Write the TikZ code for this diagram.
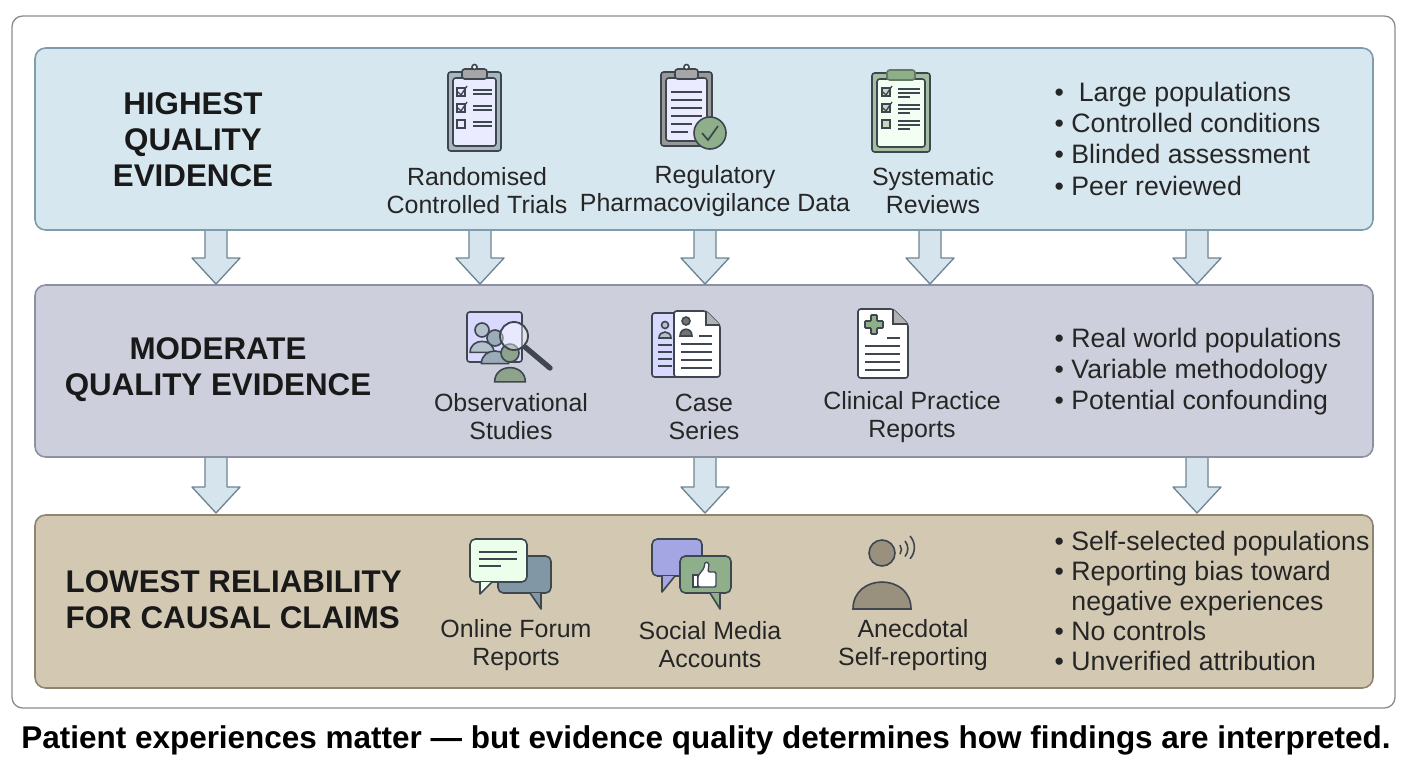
\documentclass[tikz,border=0pt]{standalone}
\usepackage{fontspec}
\setmainfont{Liberation Sans}
\begin{document}
\begin{tikzpicture}[x=0.75pt,y=-0.75pt,
 band/.style={rounded corners=8pt,line width=1.2pt},
 head/.style={font=\fontsize{23.5}{27}\selectfont\bfseries,text=black!90},
 lab/.style={font=\fontsize{18.7}{21}\selectfont,align=center,text=black!85},
 bul/.style={font=\fontsize{20}{23.5}\selectfont,align=left,anchor=north west,text=black!85},
 dn/.style={fill=arrf,draw=arrd,line width=1pt,line join=round},
 ic/.style={draw=icd,line width=1.2pt,rounded corners=2pt},
 ln/.style={draw=icd,line width=1.2pt}]
\definecolor{b1}{HTML}{D7E7F0}\definecolor{b1d}{HTML}{7E9CAC}
\definecolor{b2}{HTML}{CDD0DC}\definecolor{b2d}{HTML}{8B90A2}
\definecolor{b3}{HTML}{D3C9B3}\definecolor{b3d}{HTML}{8E8470}
\definecolor{arrf}{HTML}{D6E4ED}\definecolor{arrd}{HTML}{6E8592}
\definecolor{icd}{HTML}{3E4650}\definecolor{gr}{HTML}{8FAE8A}\definecolor{blg}{HTML}{8297A6}
\useasboundingbox (0,0) rectangle (1408,768);
\fill[white] (0,0) rectangle (1408,768);
\draw[rounded corners=8pt,draw=black!45,line width=1pt] (12,16) rectangle (1395,708);
\draw[band,fill=b1,draw=b1d] (35,48) rectangle (1373,230);
\draw[band,fill=b2,draw=b2d] (35,285) rectangle (1373,457);
\draw[band,fill=b3,draw=b3d] (35,515) rectangle (1373,688);
% arrows
\foreach \x in {216,480,705,930,1197}{
 \draw[dn] (\x-11,231) -- (\x-11,258) -- (\x-24,258) -- (\x,284) -- (\x+24,258) -- (\x+11,258) -- (\x+11,231);}
\foreach \x in {216,705,1197}{
 \draw[dn] (\x-11,458) -- (\x-11,487) -- (\x-24,487) -- (\x,513) -- (\x+24,487) -- (\x+11,487) -- (\x+11,458);}
% headings
\node[head,align=center] (h1) at (193,140) {HIGHEST\\QUALITY\\EVIDENCE};
\node[head,align=center] (h2) at (218,370) {MODERATE\\QUALITY EVIDENCE};
\node[head,align=left,anchor=west] (h3) at (61,600) {LOWEST RELIABILITY\\FOR CAUSAL CLAIMS};
% labels
\node[lab] (l1) at (477,191) {Randomised\\Controlled Trials};
\node[lab] (l2) at (715,191) {Regulatory\\Pharmacovigilance Data};
\node[lab] (l3) at (933,191) {Systematic\\Reviews};
\node[lab] (l4) at (511,417) {Observational\\Studies};
\node[lab] (l5) at (704,417) {Case\\Series};
\node[lab] (l6) at (912,417) {Clinical Practice\\Reports};
\node[lab] (l7) at (516,645) {Online Forum\\Reports};
\node[lab] (l8) at (710,645) {Social Media\\Accounts};
\node[lab] (l9) at (913,645) {Anecdotal\\Self-reporting};
% bullets
\node[bul] (u1) at (1050,77) {\textbullet\ \ Large populations\\\textbullet\ Controlled conditions\\\textbullet\ Blinded assessment\\\textbullet\ Peer reviewed};
\node[bul] (u2) at (1050,323) {\textbullet\ Real world populations\\\textbullet\ Variable methodology\\\textbullet\ Potential confounding};
\node[bul,font=\fontsize{20}{22.5}\selectfont] (u3) at (1050,526) {\textbullet\ Self-selected populations\\\textbullet\ Reporting bias toward\\\phantom{\textbullet\ }negative experiences\\\textbullet\ No controls\\\textbullet\ Unverified attribution};
% caption
\node[font=\fontsize{23.6}{26}\selectfont\bfseries] (cap) at (706,740) {Patient experiences matter — but evidence quality determines how findings are interpreted.};
% icon 1 clipboard
\draw[ic,fill=blg!70] (448,72) rectangle (501,151);
\draw[ic,fill=white!92!blue] (453,78) rectangle (496,146);
\draw[ic,fill=black!35] (462,69) rectangle (487,79);
\draw[ln,fill=white] (474.5,67) circle (2.5);
\foreach \y/\c in {92/1,108/1,124/0}{
 \draw[ln,line width=1pt] (457,\y-4) rectangle (465,\y+4);
 \ifnum\c=1 \draw[ln,line width=1pt] (458,\y) -- (461,\y+3) -- (467,\y-6);\fi
 \draw[ln,line width=1pt] (473,\y-2)--(492,\y-2) (473,\y+2)--(492,\y+2);}
% icon 2
\draw[ic,fill=black!40] (661,72) rectangle (712,146);
\draw[ic,fill=white!92!blue] (666,78) rectangle (707,141);
\draw[ic,fill=black!35] (675,69) rectangle (698,79);
\draw[ln,fill=white] (686.5,67) circle (2.5);
\foreach \y in {92,100,108,116}{\draw[ln,line width=1pt] (671,\y)--(702,\y);}
\draw[ln,line width=1pt] (671,124)--(692,124) (671,132)--(688,132);
\draw[ln,fill=gr] (710,133) circle (16);
\draw[ln,line width=1.3pt] (702,133) -- (708,140) -- (718,126);
% icon 3
\draw[ic,fill=gr!80] (872,73) rectangle (930,152);
\draw[ic,fill=green!5!white] (877,79) rectangle (925,147);
\draw[ic,draw=gr!70!black,fill=gr] (887,70) rectangle (915,80);
\foreach \y/\c in {92/1,108/1,124/0}{
 \draw[ln,line width=1pt,fill=gr!50] (882,\y-4) rectangle (890,\y+4);
 \ifnum\c=1 \draw[ln,line width=1pt] (883,\y) -- (886,\y+3) -- (892,\y-6);\fi
 \draw[ln,line width=1pt] (898,\y-3)--(920,\y-3) (898,\y+1)--(920,\y+1) (898,\y+5)--(910,\y+5);}
% icon 4 observational
\draw[ic,fill=white!85!blue] (467,312) rectangle (522,362);
\foreach \px/\py/\r/\cc in {482/330/7/blg!60,495/338/8/blg!80,510/353/9/gr!80!black!80}{
 \draw[ln,fill=\cc] (\px,\py) circle (\r);
 \draw[ln,fill=\cc] (\px-1.7*\r,\py+3.2*\r) .. controls (\px-1.7*\r,\py+1.1*\r) and (\px+1.7*\r,\py+1.1*\r) .. (\px+1.7*\r,\py+3.2*\r) -- cycle;}
\draw[ln,line width=1.4pt,fill=white,fill opacity=0.4] (514,336) circle (14);
\draw[icd,line width=4pt,line cap=round] (525,347) -- (550,368);
% icon 5 case series
\draw[ic,fill=white!85!blue] (652,313) rectangle (680,377);
\foreach \y in {345,352,359,366}{\draw[ln,line width=1pt] (658,\y)--(672,\y);}
\draw[ln,fill=blg!60] (665,325) circle (3.5);
\draw[ln,fill=blg!60] (659,338) .. controls (659,330) and (671,330) .. (671,338) -- cycle;
\draw[ic,fill=white] (674,311) -- (706,311) -- (720,325) -- (720,377) -- (674,377) -- cycle;
\draw[ln,fill=black!30] (706,311) -- (706,325) -- (720,325);
\draw[ln,fill=black!55] (686,321) circle (4);
\draw[ln,fill=black!55] (680,336) .. controls (680,327) and (692,327) .. (692,336) -- cycle;
\draw[ln,line width=1pt] (699,336)--(712,336);
\foreach \y in {344,352,360,368}{\draw[ln,line width=1pt] (681,\y)--(712,\y);}
% icon 6 clinical
\draw[ic,fill=white] (858,309) -- (893,309) -- (908,324) -- (908,378) -- (858,378) -- cycle;
\draw[ln,fill=black!30] (893,309) -- (893,324) -- (908,324);
\draw[ln,fill=gr,rounded corners=0.5pt] (871,315)--(877,315)--(877,321)--(883,321)--(883,328)--(877,328)--(877,334)--(871,334)--(871,328)--(865,328)--(865,321)--(871,321)--cycle;
\draw[ln,line width=1pt] (887,338)--(900,338);
\foreach \y in {346,354,362,370}{\draw[ln,line width=1pt] (865,\y)--(900,\y);}
% icon 7 chat
\draw[ic,fill=blg,rounded corners=4pt] (498,556) rectangle (551,593);
\draw[ln,fill=blg,line join=round] (530,593) -- (541,609) -- (541,593);
\draw[ic,fill=green!8!white,rounded corners=4pt] (470,539) rectangle (527,582);
\draw[ln,fill=green!8!white,line join=round] (480,582) -- (480,594) -- (492,582);
\foreach \y/\e in {552/517,559/517,566/501}{\draw[ln,line width=1pt] (479,\y)--(\e,\y);}
% icon 8 social
\draw[ic,fill=b2!80!blue,rounded corners=4pt] (652,539) rectangle (702,576);
\draw[ln,fill=b2!80!blue,line join=round] (662,576) -- (662,592) -- (675,576);
\draw[ic,fill=gr,rounded corners=4pt] (680,556) rectangle (731,593);
\draw[ln,fill=gr,line join=round] (710,593) -- (720,609) -- (720,593);
\draw[ln,fill=white,line width=1pt] (693,575) rectangle (698,587);
\draw[ln,fill=white,line width=1pt,rounded corners=1pt] (698,576) -- (704,568) -- (705,562) -- (709,563) -- (708,572) -- (716,572) -- (716,587) -- (698,587) -- cycle;
% icon 9 person
\draw[ln,fill=b3d!90!white] (882,553) circle (13);
\draw[ln,fill=b3d!90!white] (853,609) .. controls (853,573) and (911,573) .. (911,609) -- cycle;
\draw[ln] (900,545) arc (-35:35:8);
\draw[ln] (905,541) arc (-40:40:12);
\draw[ln] (910,536) arc (-42:42:17);
\end{tikzpicture}
\end{document}
